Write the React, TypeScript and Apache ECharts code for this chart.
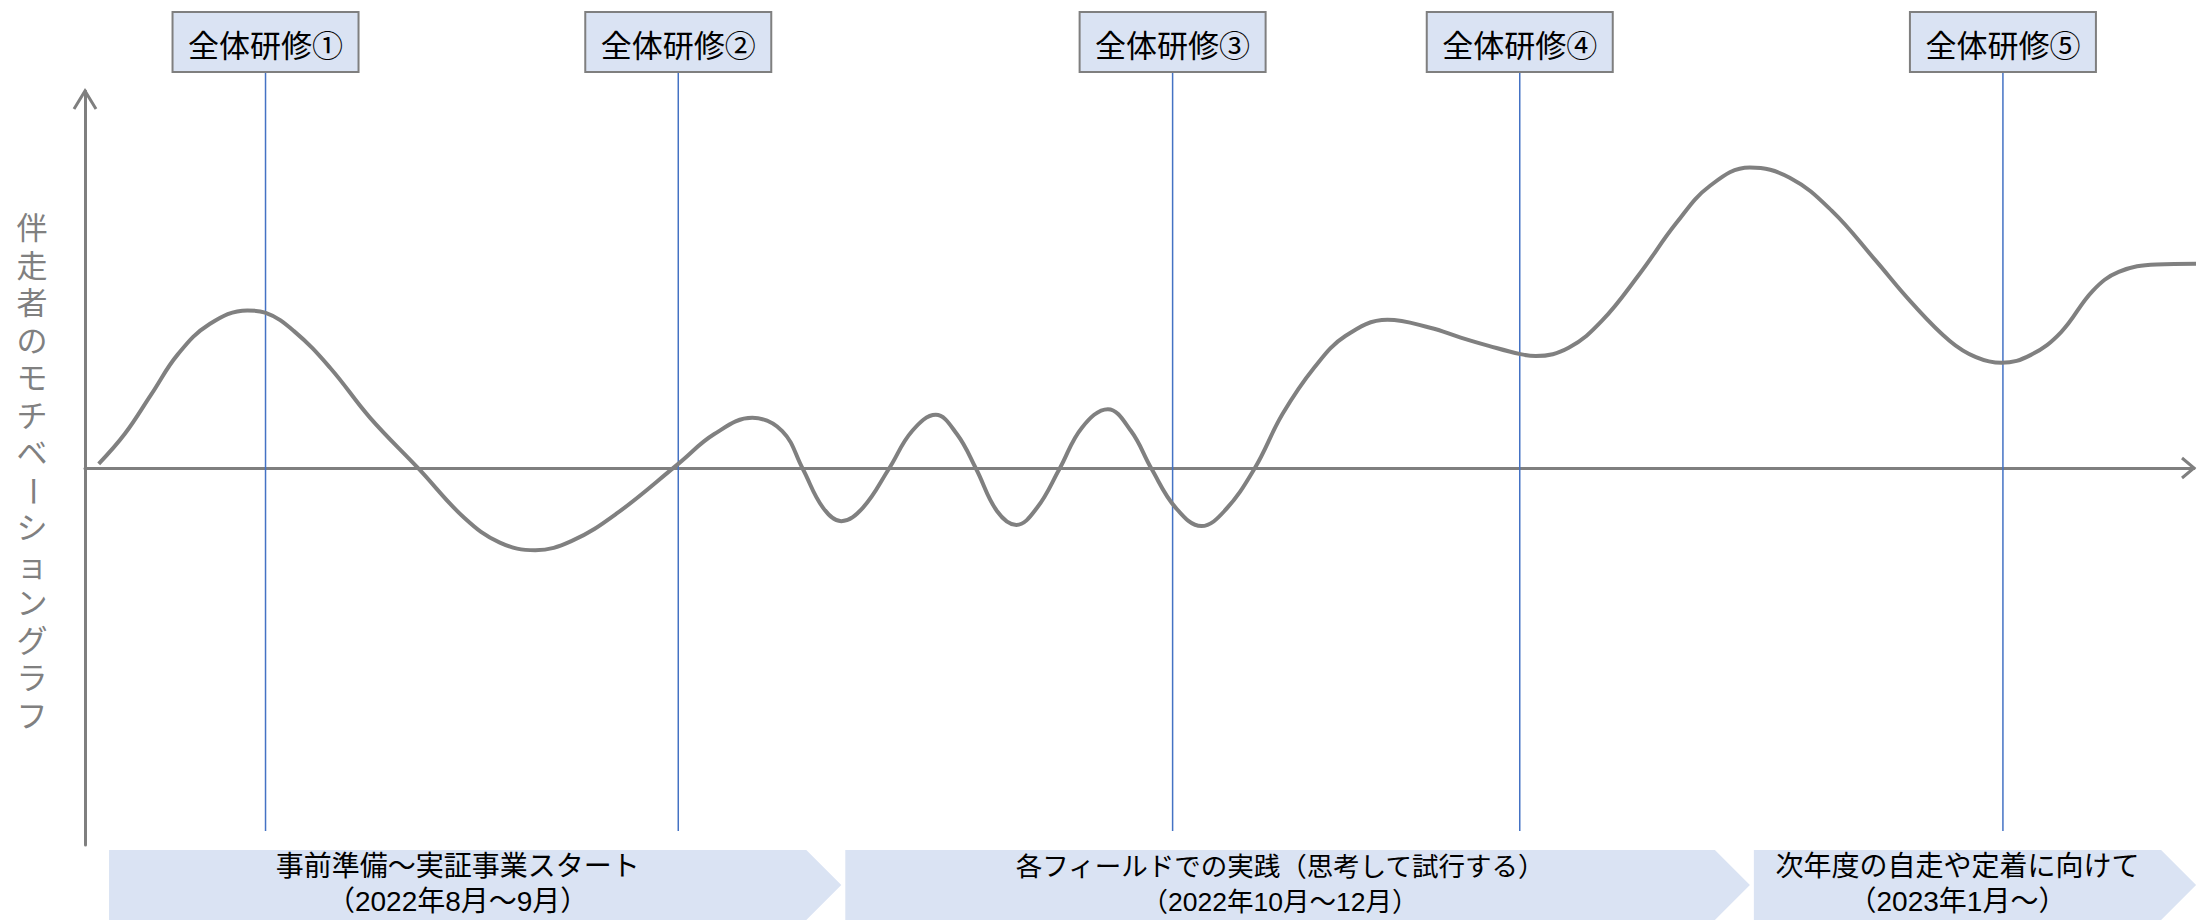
import React, { useEffect, useRef } from 'react';
import * as echarts from 'echarts';

// ---- data ----
const motivationX = [
  0.65, 1.88, 3.15, 4.41, 5.91, 7.7, 8.54, 9.91, 11.62, 13.52, 15.84, 17.98, 19.67, 21.35, 23.06, 25.18,
  28.13, 29.84, 31.64, 33.06, 34.03, 34.99, 35.86, 36.89, 38.12, 39.22, 40.34, 41.34, 42.25, 43.24, 44.16,
  45.15, 46.21, 47.27, 48.5, 49.6, 50.57, 51.71, 52.94, 54.03, 55.45, 56.78, 58.28, 59.76, 61.76, 63.78,
  65.23, 66.56, 68.06, 68.79, 70.35, 71.92, 73.7, 75.47, 77.04, 78.94, 80.83, 82.83, 84.85, 86.62, 88.42,
  89.66, 90.87, 92.27, 93.69, 95.2, 96.43, 98.22, 100.1,
];
const motivationY = [
  0.11, 0.9, 1.96, 3.02, 3.82, 4.18, 4.12, 3.63, 2.66, 1.33, -0.03, -1.32, -1.98, -2.18, -1.94, -1.22,
  0.11, 0.9, 1.33, 0.98, -0.02, -1.05, -1.41, -1.05, -0.02, 0.98, 1.41, 0.9, -0.02, -1.14, -1.51,
  -1.05, -0.02, 1.07, 1.56, 0.98, -0.02, -1.05, -1.54, -1.14, -0.02, 1.43, 2.66, 3.5, 3.93, 3.72,
  3.46, 3.24, 3.02, 2.97, 3.19, 3.9, 5.14, 6.51, 7.48, 7.97, 7.7, 6.82, 5.54, 4.38, 3.37,
  2.94, 2.79, 3.0, 3.6, 4.7, 5.2, 5.4, 5.42,
];

const sessionLabels = ['全体研修①', '全体研修②', '全体研修③', '全体研修④', '全体研修⑤'];
const sessionX = [8.56, 28.13, 51.57, 68.03, 90.94];

const phaseTitles = ['事前準備～実証事業スタート', '各フィールドでの実践（思考して試行する）', '次年度の自走や定着に向けて'];
const phasePeriods = ['（2022年8月～9月）', '（2022年10月～12月）', '（2023年1月～）'];
const phaseStart = [1.14, 36.05, 79.13];
const phaseEnd = [35.86, 78.94, 100.1];

const yAxisTitle = '伴走者のモチベーショングラフ';

const FONT = '"Noto Sans CJK JP", "Noto Sans", sans-serif';
const TITLE_FONT = '"Liberation Sans", "Noto Sans CJK JP", sans-serif';
const GRAY = '#7f7f7f';

export default function App() {
  const ref = useRef<HTMLDivElement>(null);

  useEffect(() => {
    if (!ref.current) return;
    const chart = echarts.init(ref.current, null, { renderer: 'svg' });

    const option: any = {
      animation: false,
      backgroundColor: '#ffffff',
      grid: { left: 85, right: 3, top: 91, bottom: 76 },
      xAxis: {
        type: 'value',
        min: 0,
        max: 100,
        axisLine: { show: true, onZero: true, lineStyle: { color: GRAY, width: 3 } },
        axisTick: { show: false },
        axisLabel: { show: false },
        splitLine: { show: false },
      },
      yAxis: {
        type: 'value',
        min: -10,
        max: 10,
        axisLine: { show: true, onZero: false, lineStyle: { color: GRAY, width: 3 } },
        axisTick: { show: false },
        axisLabel: { show: false },
        splitLine: { show: false },
      },
      series: [
        {
          type: 'custom',
          name: 'sessions',
          z: 1,
          clip: false,
          data: sessionX.map((x) => [x, 0]),
          renderItem: (params: any, api: any) => {
            const i = params.dataIndex;
            const px = api.coord([api.value(0), 0])[0];
            return {
              type: 'group',
              children: [
                {
                  type: 'line',
                  shape: { x1: px, y1: 72, x2: px, y2: 831 },
                  style: { stroke: '#4472c4', lineWidth: 1.5 },
                },
                {
                  type: 'rect',
                  shape: { x: px - 93, y: 12, width: 186, height: 60 },
                  style: { fill: '#dae3f3', stroke: GRAY, lineWidth: 2 },
                },
                {
                  type: 'text',
                  style: {
                    text: sessionLabels[i],
                    x: px,
                    y: 43,
                    align: 'center',
                    verticalAlign: 'middle',
                    fill: '#000000',
                    font: `31px ${FONT}`,
                  },
                },
              ],
            };
          },
        },
        {
          type: 'custom',
          name: 'phases',
          z: 1,
          clip: false,
          data: phaseStart.map((s, i) => [s, phaseEnd[i]]),
          renderItem: (params: any, api: any) => {
            const i = params.dataIndex;
            const x0 = api.coord([api.value(0), 0])[0];
            const x1 = api.coord([api.value(1), 0])[0];
            const depth = 35;
            const top = 850;
            const bot = 920;
            const mid = (top + bot) / 2;
            const cx = (x0 + x1 - depth) / 2;
            const fs = i === 1 ? 26.5 : 28;
            return {
              type: 'group',
              children: [
                {
                  type: 'polygon',
                  shape: {
                    points: [
                      [x0, top],
                      [x1 - depth, top],
                      [x1, mid],
                      [x1 - depth, bot],
                      [x0, bot],
                    ],
                  },
                  style: { fill: '#dae3f3' },
                },
                {
                  type: 'text',
                  style: {
                    text: phaseTitles[i] + '\n' + phasePeriods[i],
                    x: cx,
                    y: 884,
                    align: 'center',
                    verticalAlign: 'middle',
                    lineHeight: 35,
                    fill: '#000000',
                    font: `${fs}px ${TITLE_FONT}`,
                  },
                },
              ],
            };
          },
        },
        {
          type: 'line',
          name: 'motivation',
          z: 5,
          clip: false,
          smooth: 0.4,
          showSymbol: false,
          symbol: 'none',
          lineStyle: { color: '#808080', width: 4 },
          data: motivationX.map((x, i) => [x, motivationY[i]]),
        },
      ],
    };

    chart.setOption(option);

    // arrowheads and vertical axis title placed via the chart's own scales
    const yTip = chart.convertToPixel({ gridIndex: 0 }, [0, 10]) as number[];
    const xTip = chart.convertToPixel({ gridIndex: 0 }, [100, 0]) as number[];
    const graphics: any[] = [
      {
        type: 'polyline',
        shape: { points: [[yTip[0] - 11, yTip[1] + 18], [yTip[0], yTip[1]], [yTip[0] + 11, yTip[1] + 18]] },
        style: { stroke: GRAY, lineWidth: 3, fill: 'none' },
        z: 10,
      },
      {
        type: 'polyline',
        shape: { points: [[xTip[0] - 12, xTip[1] - 10], [xTip[0], xTip[1]], [xTip[0] - 12, xTip[1] + 10]] },
        style: { stroke: GRAY, lineWidth: 3, fill: 'none' },
        z: 10,
      },
    ];

    // vertical (tategaki) title: split around the long-vowel mark, which is turned upright
    const chars = Array.from(yAxisTitle);
    const pitch = 37.5;
    const top0 = 210;
    let run: string[] = [];
    let runStart = 0;
    const flush = (endIdx: number) => {
      if (!run.length) return;
      const cy = top0 + (runStart + endIdx) / 2 * pitch;
      graphics.push({
        type: 'text',
        x: 32,
        y: cy,
        style: {
          text: run.join('\n'),
          x: 0,
          y: 0,
          align: 'center',
          verticalAlign: 'middle',
          lineHeight: pitch,
          fill: '#808080',
          font: `31px ${TITLE_FONT}`,
        },
      });
      run = [];
    };
    chars.forEach((ch, i) => {
      if (ch === 'ー') {
        flush(i);
        graphics.push({
          type: 'text',
          x: 32,
          y: top0 + (i + 0.5) * pitch,
          rotation: -Math.PI / 2,
          style: {
            text: ch,
            x: 0,
            y: 0,
            align: 'center',
            verticalAlign: 'middle',
            fill: '#808080',
            font: `31px ${TITLE_FONT}`,
          },
        });
        runStart = i + 1;
      } else {
        if (!run.length) runStart = i;
        run.push(ch);
      }
    });
    flush(chars.length);
    chart.setOption({ graphic: graphics });

    return () => {
      chart.dispose();
    };
  }, []);

  return (
    <div
      ref={ref}
      style={{ position: 'absolute', left: 0, top: 0, width: 2197, height: 921 }}
    />
  );
}
